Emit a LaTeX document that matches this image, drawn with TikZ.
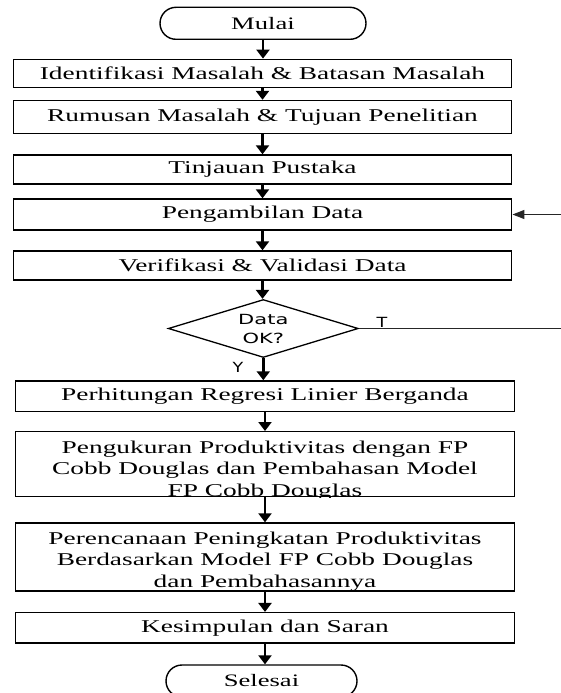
\documentclass[tikz,border=0pt]{standalone}
\usepackage{fontspec}
\setmainfont[FakeStretch=1.52]{Liberation Serif}
\newfontfamily\dsans[FakeStretch=1.5]{DejaVu Sans}
\newfontfamily\lsans[FakeStretch=1.25]{DejaVu Sans}
\usetikzlibrary{shapes.geometric,arrows.meta}
\begin{document}
\begin{tikzpicture}[x=1pt,y=-1pt,
  box/.style={draw=black,line width=1.4pt,rectangle,inner sep=0pt,minimum width=498.5pt,
    font=\fontsize{18}{21.5}\selectfont},
  txt/.style={inner sep=0pt,align=center,font=\fontsize{18}{21.5}\selectfont},
  term/.style={draw=black,line width=1.4pt,rectangle,rounded corners=16pt,inner sep=0pt,
    minimum height=32pt,font=\fontsize{17.5}{20}\selectfont},
  dec/.style={draw=black,line width=1.3pt,diamond,aspect=3.28,inner sep=0pt,
    minimum width=190pt,minimum height=58pt,align=center,
    font=\dsans\fontsize{14}{19}\selectfont},
  lbl/.style={inner sep=0pt,font=\lsans\fontsize{14}{16}\selectfont},
  arr/.style={line width=2.4pt,-{Triangle[width=13pt,length=9pt]}},
  fb/.style={draw=black!85,line width=1.3pt,-{Triangle[width=9pt,length=12pt]}}]
\useasboundingbox (0,0) rectangle (560,693);

\node[term,minimum width=206pt] (mulai) at (263,23.3) {Mulai};
\node[box,minimum height=28pt] (b1) at (262.5,73.3) {Identifikasi Masalah \& Batasan Masalah};
\node[box,minimum height=33pt] (b2) at (262.5,117) {Rumusan Masalah \& Tujuan Penelitian};
\node[box,minimum height=29pt] (b3) at (262.5,169.5) {Tinjauan Pustaka};
\node[box,minimum height=31pt] (b4) at (262.5,214.5) {Pengambilan Data};
\node[box,minimum height=29pt] (b5) at (262.5,265.5) {Verifikasi \& Validasi Data};
\node[dec] (d) at (263.3,328.5) {Data\\OK?};
\node[box,minimum height=30.7pt] (b6) at (265,396.3) {Perhitungan Regresi Linier Berganda};
\node[box,minimum height=65pt] (b7) at (265,464.2) {};
\begin{scope}
  \clip (b7.south west) rectangle (b7.north east);
  \node[txt] (t7) at (265,470.3) {Pengukuran Produktivitas dengan FP\\Cobb Douglas dan Pembahasan Model\\FP Cobb Douglas};
\end{scope}
\node[box,minimum height=68pt] (b8) at (265,557) {};
\begin{scope}
  \clip (b8.south west) rectangle (b8.north east);
  \node[txt] (t8) at (265,561.6) {Perencanaan Peningkatan Produktivitas\\Berdasarkan Model FP Cobb Douglas\\dan Pembahasannya};
\end{scope}
\node[box,minimum height=30.3pt] (b9) at (265,627.8) {Kesimpulan dan Saran};
\node[term,minimum width=191pt] (sel) at (261.5,681) {Selesai};

\node[lbl] (tl) at (382,322) {T};
\node[lbl] (yl) at (238,367) {Y};

\coordinate (fr) at (580,0);

\draw[arr] (mulai.south) -- (mulai.south |- b1.north);
\draw[arr] (b1.south) -- (b2.north);
\draw[arr] (b2.south) -- (b3.north);
\draw[arr] (b3.south) -- (b4.north);
\draw[arr] (b4.south) -- (b5.north);
\draw[arr] (b5.south) -- (b5.south |- d.north);
\draw[arr] (d.south) -- (d.south |- b6.north);
\draw[arr] (b6.south) -- (b7.north);
\draw[arr] (b7.south) -- (b8.north);
\draw[arr] (b8.south) -- (b9.north);
\draw[arr] (b9.south) -- (b9.south |- sel.north);
\draw[fb] (d.east) -- (d.east -| fr) |- (b4.east);
\end{tikzpicture}
\end{document}
